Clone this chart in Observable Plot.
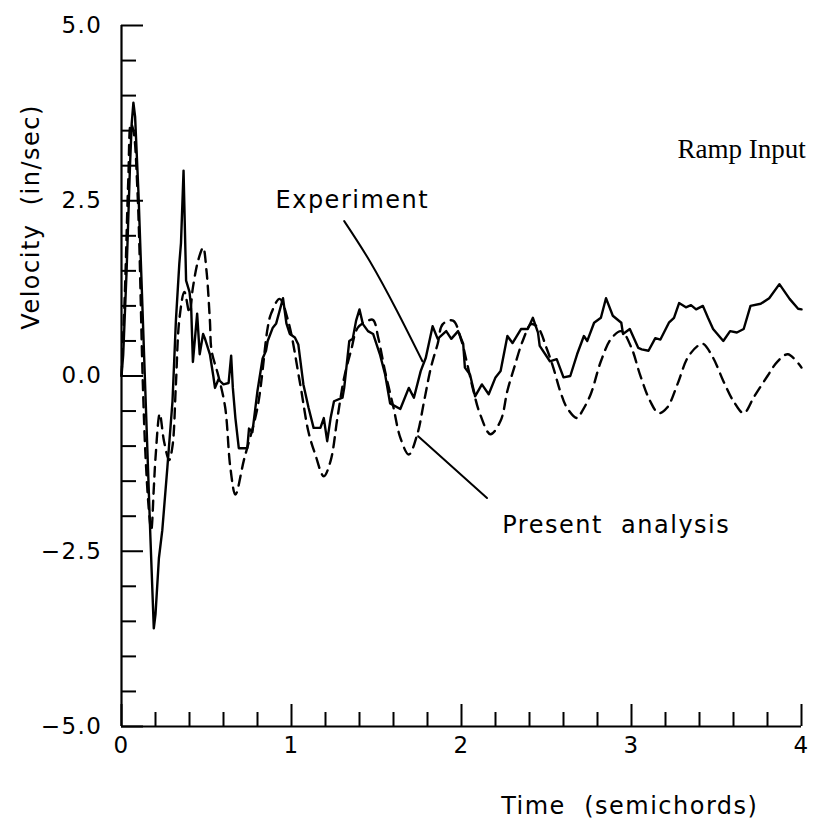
<!DOCTYPE html>
<html><head><meta charset="utf-8">
<script src="https://cdn.jsdelivr.net/npm/d3@7"></script>
<script src="https://cdn.jsdelivr.net/npm/@observablehq/plot@0.6"></script>
<style>html,body{margin:0;padding:0;background:#fff} svg{display:block}</style>
</head><body><div id="chart"></div>
<script>
// Experiment (solid) — time (semichords), velocity (in/sec)
const expTime = [0.00,0.01,0.03,0.05,0.06,0.07,0.08,0.10,0.12,0.14,0.17,0.19,0.20,0.22,0.24,0.27,0.30,0.32,0.34,0.35,0.365,0.38,0.40,0.41,0.42,0.445,0.46,0.48,0.49,0.52,0.54,0.55,0.57,0.60,0.63,0.645,0.655,0.67,0.69,0.74,0.75,0.77,0.80,0.83,0.85,0.86,0.89,0.91,0.95,0.97,0.99,1.02,1.04,1.07,1.10,1.13,1.17,1.19,1.21,1.23,1.25,1.30,1.31,1.34,1.36,1.38,1.40,1.42,1.45,1.48,1.52,1.55,1.58,1.64,1.69,1.72,1.76,1.79,1.83,1.86,1.91,1.94,1.98,2.01,2.02,2.05,2.08,2.12,2.16,2.20,2.23,2.27,2.30,2.35,2.39,2.42,2.45,2.46,2.52,2.56,2.60,2.64,2.68,2.72,2.74,2.78,2.82,2.85,2.89,2.94,2.95,2.99,3.04,3.06,3.10,3.14,3.17,3.22,3.25,3.28,3.32,3.35,3.38,3.42,3.45,3.48,3.54,3.58,3.62,3.66,3.70,3.76,3.81,3.87,3.93,3.98,4.00];
const expVel  = [0.0,0.3,1.5,3.0,3.6,3.9,3.7,2.6,1.2,-0.2,-2.3,-3.6,-3.4,-2.6,-2.2,-1.3,-0.36,0.79,1.6,1.9,2.93,1.36,1.2,0.97,0.2,0.89,0.31,0.6,0.54,0.31,0.0,-0.17,-0.05,-0.12,-0.1,0.29,-0.17,-0.6,-1.03,-1.03,-0.75,-0.8,-0.21,0.25,0.36,0.5,0.69,0.75,1.11,0.75,0.6,0.55,0.45,-0.12,-0.45,-0.74,-0.74,-0.6,-0.93,-0.6,-0.36,-0.31,-0.17,0.5,0.53,0.79,0.95,0.74,0.64,0.6,0.31,0.03,-0.39,-0.47,-0.17,-0.31,0.07,0.26,0.71,0.53,0.64,0.53,0.64,0.46,0.12,0.02,-0.29,-0.12,-0.26,-0.02,0.07,0.57,0.47,0.67,0.67,0.83,0.62,0.43,0.21,0.24,-0.02,0.0,0.31,0.57,0.5,0.76,0.83,1.11,0.86,0.76,0.6,0.67,0.4,0.38,0.36,0.54,0.52,0.76,0.83,1.04,0.98,1.01,0.95,1.0,0.83,0.67,0.5,0.64,0.62,0.67,1.0,1.03,1.11,1.31,1.1,0.96,0.95];

// Present analysis (dashed)
const anaTime = [0.00,0.02,0.04,0.055,0.07,0.094,0.125,0.14,0.16,0.175,0.19,0.20,0.225,0.25,0.28,0.30,0.32,0.34,0.37,0.40,0.42,0.45,0.48,0.50,0.52,0.53,0.57,0.61,0.64,0.67,0.72,0.80,0.86,0.88,0.93,0.98,1.05,1.10,1.14,1.19,1.23,1.27,1.31,1.35,1.39,1.45,1.48,1.51,1.55,1.60,1.64,1.69,1.74,1.78,1.82,1.86,1.89,1.95,2.00,2.03,2.07,2.11,2.17,2.23,2.27,2.31,2.36,2.41,2.45,2.50,2.54,2.58,2.62,2.68,2.71,2.76,2.82,2.88,2.94,3.00,3.05,3.11,3.16,3.21,3.27,3.33,3.39,3.42,3.48,3.54,3.60,3.66,3.72,3.80,3.86,3.92,4.00];
const anaVel  = [0.0,1.2,2.8,3.6,3.5,2.64,-0.07,-1.07,-1.88,-2.2,-1.6,-1.17,-0.54,-0.93,-1.2,-1.0,-0.12,0.8,1.2,0.9,1.26,1.64,1.83,1.5,0.79,0.36,0.0,-0.45,-1.3,-1.69,-1.2,-0.45,0.69,0.89,1.1,0.79,-0.1,-0.8,-1.12,-1.43,-1.21,-0.6,-0.02,0.36,0.69,0.79,0.8,0.55,0.07,-0.45,-0.88,-1.12,-0.83,-0.36,0.12,0.46,0.74,0.79,0.5,0.21,-0.21,-0.55,-0.83,-0.64,-0.21,0.12,0.5,0.74,0.69,0.4,0.12,-0.21,-0.45,-0.6,-0.5,-0.26,0.21,0.53,0.64,0.4,0.02,-0.36,-0.53,-0.45,-0.12,0.26,0.43,0.46,0.26,-0.07,-0.36,-0.53,-0.3,0.0,0.21,0.31,0.12];

// Tick values
const xMajorTicks = [0, 1, 2, 3, 4];
const xMinorTicks = [0.2,0.4,0.6,0.8,1.2,1.4,1.6,1.8,2.2,2.4,2.6,2.8,3.2,3.4,3.6,3.8];
const yMajorTicks = [-5, -2.5, 0, 2.5, 5];
const yMinorTicks = [-4.5,-4,-3.5,-3,-2,-1.5,-1,-0.5,0.5,1,1.5,2,3,3.5,4,4.5];

// Text
const xTitle = "Time  (semichords)";
const yTitle = "Velocity  (in/sec)";
const expLabel = "Experiment";
const anaLabel = "Present  analysis";
const caseLabel = "Ramp Input";

// Annotation anchors (data coordinates)
const expLabelAt = {t: 0.906, v: 2.39};
const anaLabelAt = {t: 2.24, v: -2.24};
const caseLabelAt = {t: 3.27, v: 3.11};
const expLeaderT = [1.31, 1.46, 1.62, 1.77];
const expLeaderV = [2.21, 1.64, 0.93, 0.21];
const anaLeaderT = [1.745, 2.15];
const anaLeaderV = [-0.86, -1.74];

const expData = expTime.map((t, i) => ({t, v: expVel[i]}));
const anaData = anaTime.map((t, i) => ({t, v: anaVel[i]}));
const expLeader = expLeaderT.map((t, i) => ({t, v: expLeaderV[i]}));
const anaLeader = anaLeaderT.map((t, i) => ({t, v: anaLeaderV[i]}));
const fmt1 = d3.format(".1f");

const chart = Plot.plot({
  width: 830, height: 823,
  marginLeft: 121, marginRight: 29, marginTop: 25, marginBottom: 97,
  x: {domain: [0, 4], label: null},
  y: {domain: [-5, 5], label: null},
  style: {fontFamily: "DejaVu Sans", fontSize: "23px", color: "#000", background: "#fff", letterSpacing: "1.5px"},
  marks: [
    Plot.axisY(yMinorTicks, {tickSize: -15, tickFormat: () => "", strokeWidth: 2, label: null}),
    Plot.axisY(yMajorTicks, {tickSize: -22, tickFormat: () => "", strokeWidth: 2, label: null}),
    Plot.axisY(yMajorTicks, {tickSize: 0, tickPadding: 19, tickFormat: fmt1, label: null}),
    Plot.axisX(xMinorTicks, {tickSize: -14, tickFormat: () => "", strokeWidth: 2, label: null}),
    Plot.axisX(xMajorTicks, {tickSize: -22, tickFormat: () => "", strokeWidth: 2, label: null}),
    Plot.axisX(xMajorTicks, {tickSize: 0, tickPadding: 10, tickFormat: d => String(d), label: null}),
    Plot.ruleX([0], {strokeWidth: 2.2}),
    Plot.ruleY([-5], {strokeWidth: 2.2}),
    Plot.line(anaData, {x: "t", y: "v", stroke: "#000", strokeWidth: 2.4, strokeDasharray: "10,7", curve: "catmull-rom"}),
    Plot.line(expData, {x: "t", y: "v", stroke: "#000", strokeWidth: 2.4, curve: "linear"}),
    Plot.line(expLeader, {x: "t", y: "v", stroke: "#000", strokeWidth: 2, curve: "natural"}),
    Plot.line(anaLeader, {x: "t", y: "v", stroke: "#000", strokeWidth: 2}),
    Plot.text([expLabel], {x: expLabelAt.t, y: expLabelAt.v, text: d => d, textAnchor: "start", lineAnchor: "bottom", fontSize: 24}),
    Plot.text([anaLabel], {x: anaLabelAt.t, y: anaLabelAt.v, text: d => d, textAnchor: "start", lineAnchor: "bottom", fontSize: 24}),
    Plot.text([caseLabel], {x: caseLabelAt.t, y: caseLabelAt.v, text: d => d, textAnchor: "start", lineAnchor: "bottom", fontSize: 27, fontFamily: "Liberation Serif"}),
    Plot.text([xTitle], {frameAnchor: "bottom", x: 2.99, dy: 80, text: d => d, textAnchor: "middle", lineAnchor: "middle", fontSize: 24}),
    Plot.text([yTitle], {frameAnchor: "left", y: 2.27, dx: -90, rotate: -90, text: d => d, textAnchor: "middle", lineAnchor: "middle", fontSize: 24})
  ]
});
d3.select(chart).selectAll("text").filter(function(){ return this.textContent === caseLabel; }).style("letter-spacing", "0px");
document.getElementById("chart").appendChild(chart);
</script>
</body></html>
